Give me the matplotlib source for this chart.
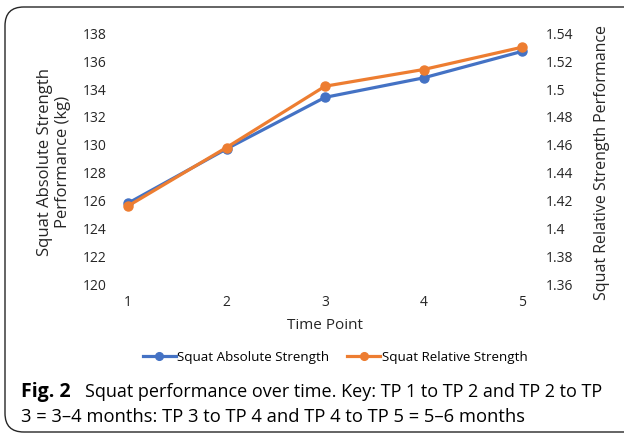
import matplotlib

matplotlib.use("Agg")
import matplotlib.pyplot as plt
from matplotlib.patches import FancyBboxPatch

time_points = [1, 2, 3, 4, 5]
absolute_kg = [125.8, 129.7, 133.4, 134.8, 136.7]
relative = [1.416, 1.458, 1.502, 1.514, 1.530]

left_ticks = [120, 122, 124, 126, 128, 130, 132, 134, 136, 138]
right_ticks = [1.36, 1.38, 1.40, 1.42, 1.44, 1.46, 1.48, 1.50, 1.52, 1.54]
right_labels = ["1.36", "1.38", "1.4", "1.42", "1.44", "1.46", "1.48", "1.5", "1.52", "1.54"]

BLUE, ORANGE, INK = "#4472C4", "#ED7D31", "#262626"
W, H = 624, 436

plt.rcParams["font.family"] = ["Open Sans", "DejaVu Sans"]

fig = plt.figure(figsize=(6.24, 4.36), dpi=100)

# rounded frame around the figure panel (runs off the right edge)
fig.patches.append(FancyBboxPatch((5 / W, 4 / H), 640 / W, 425 / H,
                                  boxstyle="round,pad=0,rounding_size=0.03",
                                  transform=fig.transFigure, fill=False,
                                  edgecolor=INK, lw=1.0, mutation_aspect=W / H))

ax = fig.add_axes([115 / W, 1 - 284 / H, 420 / W, (284 - 33.3) / H])
ax2 = ax.twinx()

l1, = ax.plot(time_points, absolute_kg, "-o", color=BLUE, lw=2.3, ms=6.5,
              label="Squat Absolute Strength", zorder=3)
l2, = ax2.plot(time_points, relative, "-o", color=ORANGE, lw=2.3, ms=6.5,
               label="Squat Relative Strength", zorder=4)

ax.set_xlim(1 - 13 / 98.5, 5 + 13 / 98.5)
ax.set_ylim(120, 138)
ax2.set_ylim(1.36, 1.54)
ax.set_xticks(time_points)
ax.set_yticks(left_ticks)
ax2.set_yticks(right_ticks)
ax2.set_yticklabels(right_labels)

for a in (ax, ax2):
    for s in a.spines.values():
        s.set_visible(False)
    a.tick_params(length=0, labelsize=10, colors=INK)
ax.tick_params(axis="y", pad=6)
ax2.tick_params(axis="y", pad=8)
ax.tick_params(axis="x", pad=8)

ax.set_xlabel("Time Point", fontsize=11, color=INK, labelpad=6)
fig.text(54 / W, 1 - 162 / H, "Squat Absolute Strength\nPerformance (kg)",
         rotation=90, ha="center", va="center", fontsize=12, color=INK,
         linespacing=1.1)
fig.text(602 / W, 1 - 162 / H, "Squat Relative Strength Performance",
         rotation=90, ha="center", va="center", fontsize=11.5, color=INK)

fig.legend(handles=[l1, l2], loc="center", bbox_to_anchor=(335 / W, 1 - 357 / H),
           ncol=2, frameon=False, fontsize=9.6, handlelength=2.5,
           handletextpad=0.1, columnspacing=1.3, markerscale=0.85)

fig.text(21 / W, 1 - 397 / H, "Fig. 2", fontsize=14, fontweight="bold",
         color="black", va="baseline")
fig.text(85 / W, 1 - 397 / H,
         "Squat performance over time. Key: TP 1 to TP 2 and TP 2 to TP",
         fontsize=13, color="black", va="baseline")
fig.text(21 / W, 1 - 422 / H,
         "3 = 3\u20134 months: TP 3 to TP 4 and TP 4 to TP 5 = 5\u20136 months",
         fontsize=13.2, color="black", va="baseline")

fig.savefig("out.png", dpi=100)
